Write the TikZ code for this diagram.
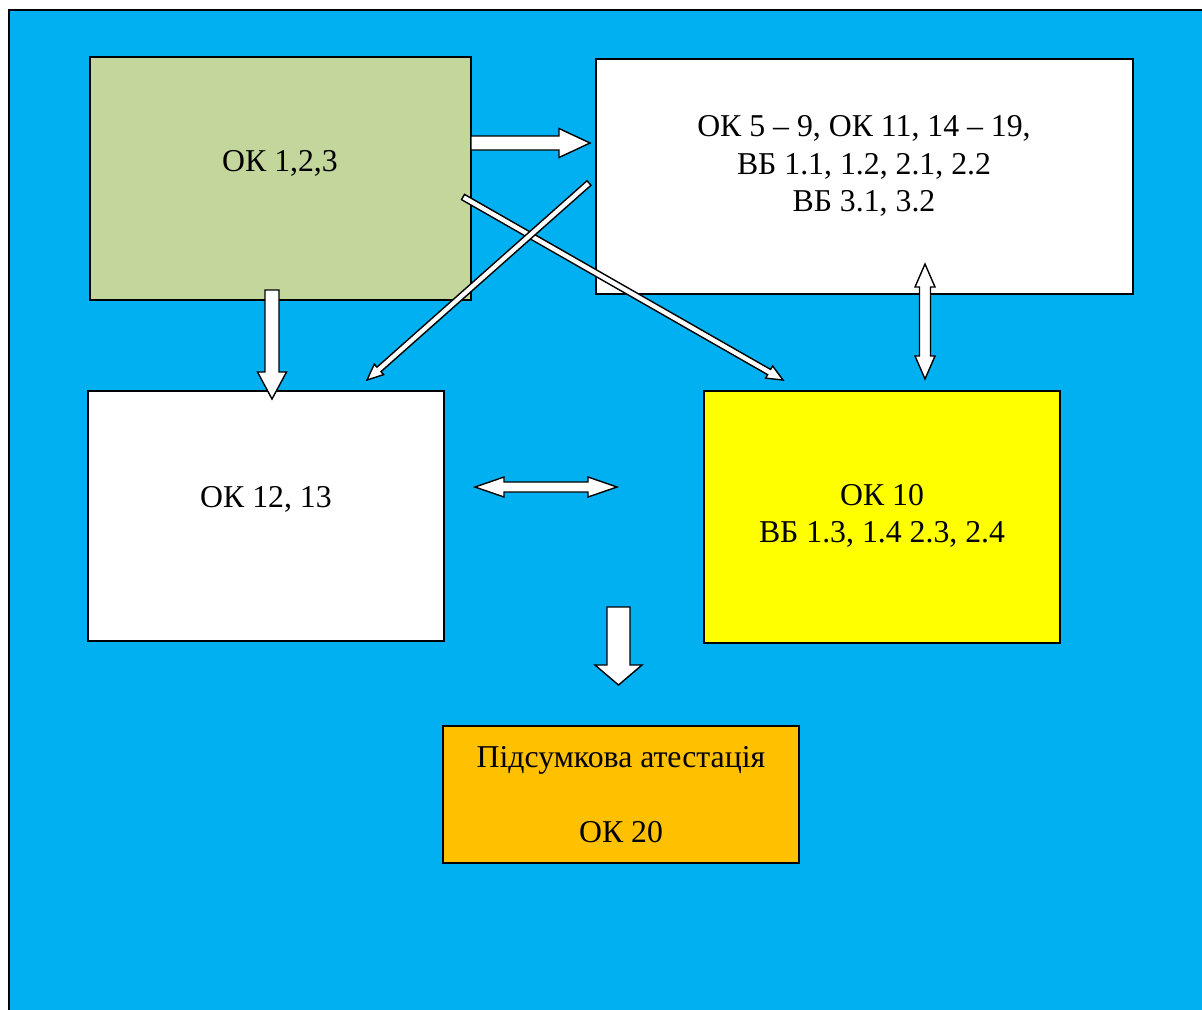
\documentclass[tikz,border=0pt]{standalone}
\usepackage{fontspec}
\setmainfont{Liberation Serif}
\usetikzlibrary{calc,fit}
\definecolor{bgblue}{HTML}{00B0F0}
\definecolor{boxgreen}{HTML}{C3D69B}
\definecolor{boxyellow}{HTML}{FFFF00}
\definecolor{boxorange}{HTML}{FFC000}
\tikzset{
  box/.style={draw=black,line width=1.3pt,inner sep=0pt},
  lbl/.style={font=\fontsize{22.6}{26.6}\selectfont,align=center,inner sep=0pt},
  blk/.style={fill=white,draw=black,line width=1pt,line join=miter},
}
\newcommand\sblock[5]{%
  \pgfmathsetlengthmacro\bw{#3*0.025cm}%
  \pgfmathsetlengthmacro\bh{#4*0.025cm}%
  \pgfmathsetlengthmacro\bl{#5*0.025cm}%
  \coordinate (hbx) at ($(#2)!\bl!(#1)$);
  \draw[blk] ($(#1)!\bw!90:(#2)$) -- ($(hbx)!\bw!90:(#2)$) -- ($(hbx)!\bh!90:(#2)$) -- (#2)
    -- ($(hbx)!\bh!-90:(#2)$) -- ($(hbx)!\bw!-90:(#2)$) -- ($(#1)!\bw!-90:(#2)$) -- cycle;}
\newcommand\dblock[5]{%
  \pgfmathsetlengthmacro\bw{#3*0.025cm}%
  \pgfmathsetlengthmacro\bh{#4*0.025cm}%
  \pgfmathsetlengthmacro\bl{#5*0.025cm}%
  \coordinate (hax) at ($(#1)!\bl!(#2)$);
  \coordinate (hbx) at ($(#2)!\bl!(#1)$);
  \draw[blk] (#1) -- ($(hax)!\bh!90:(#2)$) -- ($(hax)!\bw!90:(#2)$) -- ($(hbx)!\bw!90:(#2)$)
    -- ($(hbx)!\bh!90:(#2)$) -- (#2) -- ($(hbx)!\bh!-90:(#2)$) -- ($(hbx)!\bw!-90:(#2)$)
    -- ($(hax)!\bw!-90:(#2)$) -- ($(hax)!\bh!-90:(#2)$) -- cycle;}
\begin{document}
\begin{tikzpicture}[x=0.025cm,y=-0.025cm]
\useasboundingbox (0,0) rectangle (1202,1009);
\fill[white] (0,0) rectangle (1202,1009);
\draw[fill=bgblue,line width=1.3pt] (9,10) rectangle (1240,1040);

% boxes
\node[box,fill=boxgreen,fit={(90,57)(471,300)}] (g) {};
\node[box,fill=white,fit={(596,59)(1133,294)}] (w) {};
\node[box,fill=white,fit={(88,391)(444,641)}] (l) {};
\node[box,fill=boxyellow,fit={(704,391)(1060,643)}] (y) {};
\node[box,fill=boxorange,fit={(443,726)(799,863)}] (o) {};

% texts
\node[lbl] (tg) at (280,163) {ОК 1,2,3};
\node[lbl] (tw) at (864,166) {ОК 5 – 9, ОК 11, 14 – 19,\\ВБ 1.1, 1.2, 2.1, 2.2\\ВБ 3.1, 3.2};
\node[lbl] (tl) at (266,499) {ОК 12, 13};
\node[lbl] (ty) at (882,516) {ОК 10\\ВБ 1.3, 1.4 2.3, 2.4};
\node[lbl] (to) at (621,795) {Підсумкова атестація\\[0pt] \\ОК 20};

% arrow end points
\coordinate (r1) at (471,143);   \coordinate (r2) at (590,143);
\coordinate (d1) at (272,290);   \coordinate (d2) at (272,399);
\coordinate (v1) at (925,264);   \coordinate (v2) at (925,379);
\coordinate (h1) at (475,487);   \coordinate (h2) at (617,487);
\coordinate (f1) at (618.5,607); \coordinate (f2) at (618.5,685);
\coordinate (a1) at (463,197);   \coordinate (a2) at (783,380);
\coordinate (b1) at (589,183);   \coordinate (b2) at (367,380);

\sblock{r1}{r2}{7}{14.5}{31}
\sblock{d1}{d2}{7}{14.5}{27}
\dblock{v1}{v2}{5.5}{10}{23}
\dblock{h1}{h2}{5}{10}{29}
\sblock{f1}{f2}{11.5}{23.5}{20}
\sblock{a1}{a2}{3}{7}{16}
\sblock{b1}{b2}{3}{7}{16}
\end{tikzpicture}
\end{document}
